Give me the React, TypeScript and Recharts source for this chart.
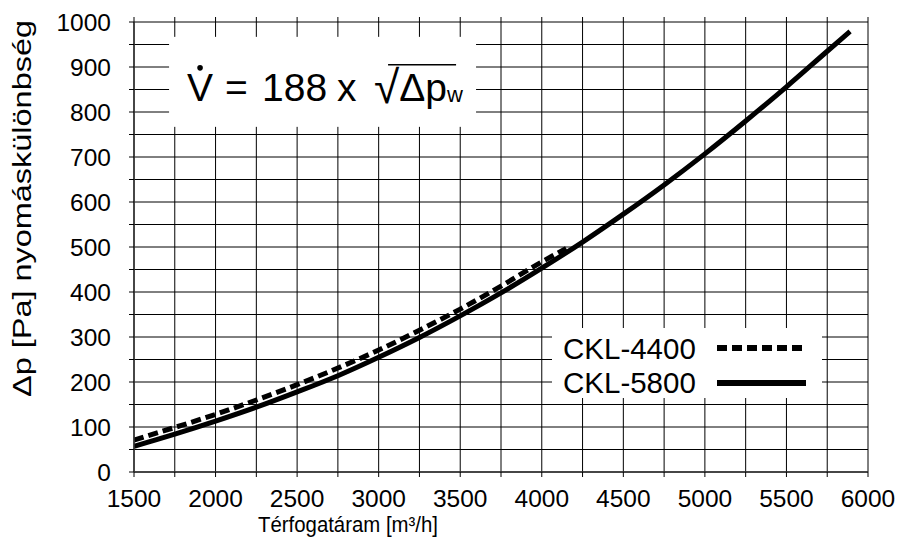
import React from 'react';
import { LineChart, Line, XAxis, YAxis, CartesianGrid, ReferenceArea, Legend } from 'recharts';

const FONT = '"Liberation Sans", Arial, Helvetica, sans-serif';

// Flow rates [m³/h]
const flowRates = [1500, 1750, 2000, 2250, 2500, 2750, 3000, 3250, 3500, 3750, 4000, 4150, 4250, 4500, 4750, 5000, 5250, 5500, 5750, 5890];
// Pressure difference [Pa]
const ckl4400Values = [71, 99, 128, 160, 194, 231, 271, 315, 362, 413, 467, 497, null, null, null, null, null, null, null, null];
const ckl5800Values = [57, 84, 113, 144, 178, 214, 255, 299, 347, 398, 453, null, 511, 573, 638, 707, 780, 856, 935, 979];

const seriesNames = ['CKL-4400', 'CKL-5800'];
const seriesDashes = ['10 5', ''];

const xTickValues = [1500, 1750, 2000, 2250, 2500, 2750, 3000, 3250, 3500, 3750, 4000, 4250, 4500, 4750, 5000, 5250, 5500, 5750, 6000];
const yTickValues = [0, 50, 100, 150, 200, 250, 300, 350, 400, 450, 500, 550, 600, 650, 700, 750, 800, 850, 900, 950, 1000];

const xTitle = 'Térfogatáram [m³/h]';
const yTitle = 'Δp [Pa] nyomáskülönbség';

const equationBox = { x1: 1715, x2: 3597, y1: 767, y2: 967 };

const tableData = flowRates.map((f, i) => ({
  flow: f,
  ckl4400: ckl4400Values[i],
  ckl5800: ckl5800Values[i],
}));

const EquationShape = (props: any) => {
  const { x, y, width, height } = props;
  const bx = x;
  const by = y;
  return (
    <g>
      <rect x={x} y={y} width={width} height={height} fill="#fff" stroke="none" />
      <circle cx={bx + 31} cy={by + 31} r={2.8} fill="#000" />
      <line x1={bx + 219} y1={by + 28} x2={bx + 287} y2={by + 28} stroke="#000" strokeWidth={1.5} />
      <text y={by + 64} fontFamily={FONT} fill="#000" fontSize={39}>
        <tspan x={bx + 18}>V</tspan>
        <tspan x={bx + 56}>=</tspan>
        <tspan x={bx + 93}>188</tspan>
        <tspan x={bx + 168}>x</tspan>
        <tspan x={bx + 205} fontSize={46} dy={2}>√</tspan>
        <tspan dy={-2}>Δp</tspan>
        <tspan fontSize={22} dy={1}>w</tspan>
      </text>
    </g>
  );
};

const XTitle = () => (
  <text x={348} y={532} textAnchor="middle" fontSize={22} fontFamily={FONT} fill="#000" textLength={180} lengthAdjust="spacingAndGlyphs">
    {xTitle}
  </text>
);

const YTitle = () => (
  <text x={31} y={208.5} transform="rotate(-90 31 208.5)" textAnchor="middle" fontSize={25} fontFamily={FONT} fill="#000" textLength={377} lengthAdjust="spacingAndGlyphs">
    {yTitle}
  </text>
);

const LegendBox = () => (
  <svg width={270} height={70} style={{ display: 'block' }}>
    {seriesNames.map((name, i) => (
      <g key={name}>
        <text x={11} y={31 + i * 34} fontSize={29.5} fontFamily={FONT} fill="#000">{name}</text>
        <line x1={165} x2={254} y1={20 + i * 35} y2={20 + i * 35} stroke="#000" strokeWidth={6} strokeDasharray={seriesDashes[i] || undefined} />
      </g>
    ))}
  </svg>
);

export default function App() {
  return (
    <div style={{ position: 'absolute', left: 0, top: 0, width: 902, height: 545, background: '#fff', fontFamily: FONT }}>
      <LineChart width={902} height={545} data={tableData} margin={{ top: 21, right: 33, bottom: 0, left: 0 }}>
        <CartesianGrid stroke="#000" strokeWidth={1} />
        <XAxis
          dataKey="flow"
          type="number"
          domain={[1500, 6000]}
          ticks={xTickValues}
          interval={0}
          tickFormatter={(v: number) => (v % 500 === 0 ? String(v) : '')}
          height={73}
          tickSize={5}
          tickMargin={13}
          axisLine={{ stroke: '#333', strokeWidth: 1.5 }}
          tickLine={{ stroke: '#000' }}
          tick={{ fill: '#000', fontSize: 24.5, fontFamily: FONT }}
          allowDataOverflow
          label={<XTitle />}
        />
        <XAxis
          xAxisId="top"
          orientation="top"
          dataKey="flow"
          type="number"
          domain={[1500, 6000]}
          ticks={xTickValues}
          interval={0}
          height={1}
          tickSize={5}
          tickFormatter={() => ''}
          axisLine={false}
          tickLine={{ stroke: '#000' }}
        />
        <YAxis
          type="number"
          domain={[0, 1000]}
          ticks={yTickValues}
          interval={0}
          width={134}
          tickSize={5}
          tickMargin={18}
          tickFormatter={(v: number) => (v % 100 === 0 ? String(v) : '')}
          axisLine={{ stroke: '#333', strokeWidth: 1.5 }}
          tickLine={{ stroke: '#000' }}
          tick={{ fill: '#000', fontSize: 24.5, fontFamily: FONT }}
          label={<YTitle />}
        />
        <YAxis
          yAxisId="right"
          orientation="right"
          type="number"
          domain={[0, 1000]}
          ticks={yTickValues}
          interval={0}
          width={1}
          tickSize={4}
          tickFormatter={() => ''}
          axisLine={false}
          tickLine={{ stroke: '#000' }}
        />
        <ReferenceArea
          x1={equationBox.x1}
          x2={equationBox.x2}
          y1={equationBox.y1}
          y2={equationBox.y2}
          fill="#fff"
          fillOpacity={1}
          stroke="none"
          shape={(p: any) => <EquationShape {...p} />}
        />
        <Line
          dataKey="ckl5800"
          name={seriesNames[1]}
          type="monotone"
          stroke="#000"
          strokeWidth={5}
          dot={false}
          connectNulls
          isAnimationActive={false}
        />
        <Line
          dataKey="ckl4400"
          name={seriesNames[0]}
          type="monotone"
          stroke="#000"
          strokeWidth={5}
          strokeDasharray={seriesDashes[0]}
          dot={false}
          connectNulls
          isAnimationActive={false}
        />
        <Legend
          layout="vertical"
          align="center"
          verticalAlign="middle"
          wrapperStyle={{ position: 'absolute', left: 552, top: 328, width: 270, height: 70, background: '#fff', margin: 0, padding: 0, lineHeight: 0 }}
          content={() => <LegendBox />}
        />
      </LineChart>
    </div>
  );
}
